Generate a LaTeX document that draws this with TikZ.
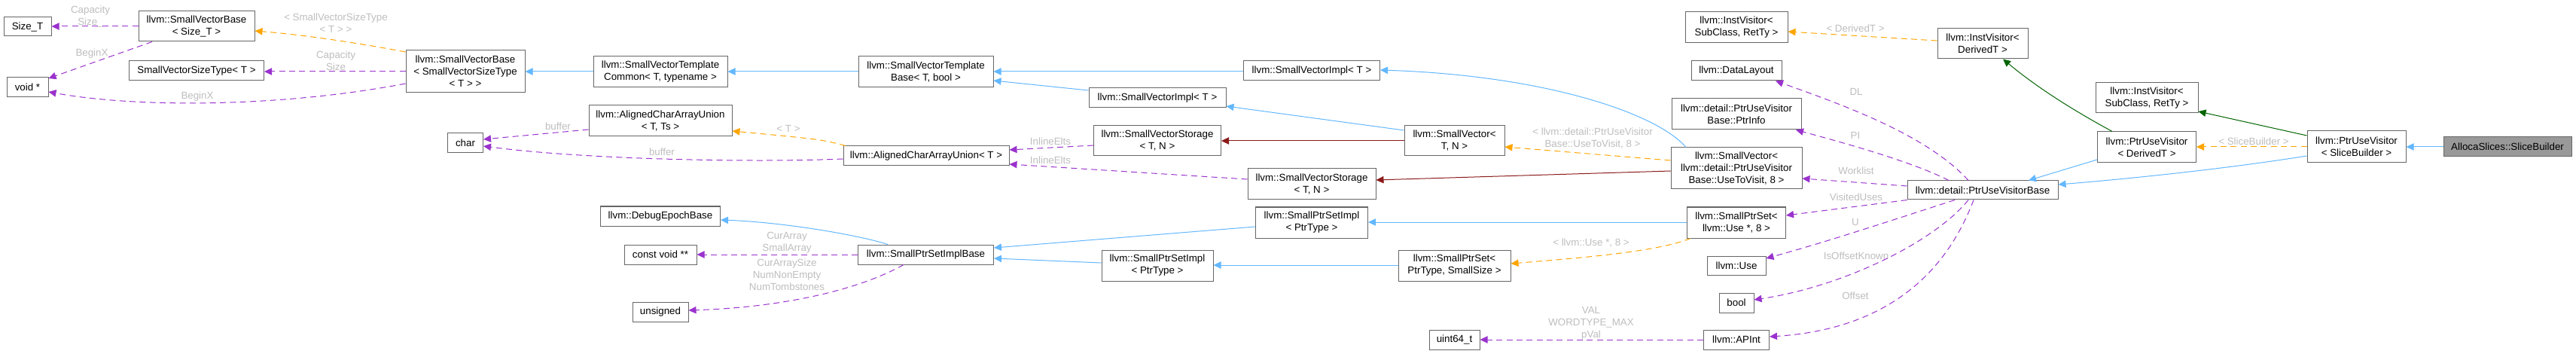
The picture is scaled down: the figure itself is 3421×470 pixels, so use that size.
\documentclass[tikz,border=0pt]{standalone}
\usepackage{fontspec}
\setmainfont{Liberation Sans}
\usetikzlibrary{arrows.meta}
\definecolor{eblue}{HTML}{63B8FF}
\definecolor{epurp}{HTML}{9A32CD}
\definecolor{eorange}{HTML}{FFA500}
\definecolor{ered}{HTML}{8B1A1A}
\definecolor{egreen}{HTML}{006400}
\definecolor{lblgray}{HTML}{BEBEBE}
\definecolor{bord}{HTML}{666666}
\definecolor{mainfill}{HTML}{999999}
\tikzset{
  box/.style={draw=bord, line width=0.75pt, fill=white, inner sep=0pt, align=center, font=\fontsize{10}{12}\selectfont},
  bx/.style 2 args={minimum width=#1*0.75pt, minimum height=#2*0.75pt},
  lbl/.style={inner sep=0pt, align=center, text=lblgray, font=\fontsize{10}{12}\selectfont},
  ebase/.style={line width=0.75pt, -{Triangle[length=7.5pt,width=7pt]}},
  blueE/.style={ebase, draw=eblue},
  purpE/.style={ebase, draw=epurp, dash pattern=on 6pt off 4pt},
  orangeE/.style={ebase, draw=eorange, dash pattern=on 6pt off 4pt},
  redE/.style={ebase, draw=ered},
  greenE/.style={ebase, draw=egreen}
}
\begin{document}
\begin{tikzpicture}[x=0.75pt, y=-0.75pt]
\fill[white] (0,0) rectangle (3421,470);
\useasboundingbox (0,0) rectangle (3421,470);
% nodes
\node[box, bx={63}{25}] (sizeT) at (36.5,35.5) {Size\_T};
\node[box, bx={154}{40}] (svbSize) at (261,35) {llvm::SmallVectorBase\\< Size\_T >};
\node[box, bx={55}{26}] (voidp) at (36.5,116) {void *};
\node[box, bx={179}{26}] (svst) at (261,94) {SmallVectorSizeType< T >};
\node[box, bx={158}{56}] (svbSvst) at (618,95) {llvm::SmallVectorBase\\< SmallVectorSizeType\\< T > >};
\node[box, bx={178}{41}] (svtc) at (877,95.5) {llvm::SmallVectorTemplate\\Common< T, typename >};
\node[box, bx={190}{41}] (acauTs) at (877,160.5) {llvm::AlignedCharArrayUnion\\< T, Ts >};
\node[box, bx={47}{26}] (char) at (618,190) {char};
\node[box, bx={179}{41}] (svtb) at (1229.5,95.5) {llvm::SmallVectorTemplate\\Base< T, bool >};
\node[box, bx={220}{26}] (acauT) at (1230,207) {llvm::AlignedCharArrayUnion< T >};
\node[box, bx={181}{26}] (svimplTop) at (1742,94) {llvm::SmallVectorImpl< T >};
\node[box, bx={182}{26}] (svimpl2) at (1537,130) {llvm::SmallVectorImpl< T >};
\node[box, bx={169}{40}] (svs1) at (1537,187) {llvm::SmallVectorStorage\\< T, N >};
\node[box, bx={133}{40}] (sv) at (1931.5,187) {llvm::SmallVector<\\T, N >};
\node[box, bx={174}{55}] (svUTV) at (2306,223.5) {llvm::SmallVector<\\llvm::detail::PtrUseVisitor\\Base::UseToVisit, 8 >};
\node[box, bx={170}{41}] (svs2) at (1742,244.5) {llvm::SmallVectorStorage\\< T, N >};
\node[box, bx={149}{41}] (spsiTop) at (1742,295.5) {llvm::SmallPtrSetImpl\\< PtrType >};
\node[box, bx={148}{41}] (spsiLow) at (1537,352.5) {llvm::SmallPtrSetImpl\\< PtrType >};
\node[box, bx={180}{26}] (spsib) at (1229.5,338) {llvm::SmallPtrSetImplBase};
\node[box, bx={149}{41}] (sps) at (1931.5,352.5) {llvm::SmallPtrSet<\\PtrType, SmallSize >};
\node[box, bx={159}{26}] (debug) at (877,287) {llvm::DebugEpochBase};
\node[box, bx={96}{26}] (cvoid) at (877,338) {const void **};
\node[box, bx={74}{26}] (unsgn) at (877,414) {unsigned};
\node[box, bx={67}{26}] (uint64) at (1931.5,451) {uint64\_t};
\node[box, bx={136}{41}] (ivSub1) at (2306,36.5) {llvm::InstVisitor<\\SubClass, RetTy >};
\node[box, bx={120}{40}] (ivDer) at (2633,58) {llvm::InstVisitor<\\DerivedT >};
\node[box, bx={120}{26}] (dl) at (2306,94) {llvm::DataLayout};
\node[box, bx={172}{41}] (ptrinfo) at (2306,151.5) {llvm::detail::PtrUseVisitor\\Base::PtrInfo};
\node[box, bx={200}{25}] (puvb) at (2633,252.5) {llvm::detail::PtrUseVisitorBase};
\node[box, bx={131}{41}] (spsUse) at (2306,295.5) {llvm::SmallPtrSet<\\llvm::Use *, 8 >};
\node[box, bx={78}{25}] (use) at (2306,352.5) {llvm::Use};
\node[box, bx={46}{26}] (bool) at (2306,402) {bool};
\node[box, bx={87}{26}] (apint) at (2306,451) {llvm::APInt};
\node[box, bx={131}{41}] (puvDer) at (2851,195.5) {llvm::PtrUseVisitor\\< DerivedT >};
\node[box, bx={136}{40}] (ivSub2) at (2851,130) {llvm::InstVisitor<\\SubClass, RetTy >};
\node[box, bx={131}{42}] (puvSB) at (3129.5,195) {llvm::PtrUseVisitor\\< SliceBuilder >};
\node[box, bx={170}{26}, fill=mainfill] (sb) at (3330,195) {AllocaSlices::SliceBuilder};
% labels
\node[lbl] (l1) at (120,21.5) {Capacity\\Size\_};
\node[lbl] (l2) at (122,71) {BeginX};
\node[lbl] (l3) at (446,30.5) {< SmallVectorSizeType\\< T > >};
\node[lbl] (l4) at (446,80.5) {Capacity\\Size};
\node[lbl] (l5) at (262,128) {BeginX};
\node[lbl] (l6) at (741,168) {buffer};
\node[lbl] (l7) at (879,202) {buffer};
\node[lbl] (l8) at (1047,171) {< T >};
\node[lbl] (l9) at (1395,188) {InlineElts};
\node[lbl] (l10) at (1395,213) {InlineElts};
\node[lbl] (l11) at (1045,322.5) {CurArray\\SmallArray};
\node[lbl] (l12) at (1045,365) {CurArraySize\\NumNonEmpty\\NumTombstones};
\node[lbl] (l13) at (2115,183.5) {< llvm::detail::PtrUseVisitor\\Base::UseToVisit, 8 >};
\node[lbl] (l14) at (2113,323) {< llvm::Use *, 8 >};
\node[lbl] (l15) at (2113,429) {VAL\\WORDTYPE\_MAX\\pVal};
\node[lbl] (l16) at (2464,38) {< DerivedT >};
\node[lbl] (l17) at (2465,122) {DL};
\node[lbl] (l18) at (2464,180) {PI};
\node[lbl] (l19) at (2465,227) {Worklist};
\node[lbl] (l20) at (2465,262) {VisitedUses};
\node[lbl] (l21) at (2464,295) {U};
\node[lbl] (l22) at (2465,340) {IsOffsetKnown};
\node[lbl] (l23) at (2464,393) {Offset};
\node[lbl] (l24) at (2993,188) {< SliceBuilder >};
% edges
\draw[purpE] (svbSize.west |- 0,35) -- (sizeT.east |- 0,35);
\draw[purpE] (svbSize.south -| 202,0) -- (voidp.east |- 0,104);
\draw[orangeE] (svbSvst.west |- 0,69) .. controls (470,56) and (400,46) .. (svbSize.east |- 0,41);
\draw[purpE] (svbSvst.west |- 0,95) -- (svst.east |- 0,95);
\draw[purpE] (svbSvst.west |- 0,111) .. controls (370,143) and (180,143) .. (voidp.east |- 0,122);
\draw[blueE] (svtc.west |- 0,95) -- (svbSvst.east |- 0,95);
\draw[blueE] (svtb.west |- 0,95) -- (svtc.east |- 0,95);
\draw[blueE] (svimplTop.west |- 0,95) -- (svtb.east |- 0,95);
\draw[blueE] (svimpl2.west |- 0,120) -- (svtb.east |- 0,107);
\draw[blueE] (sv.west |- 0,173) -- (svimpl2.east |- 0,141);
\draw[redE] (sv.west |- 0,187) -- (svs1.east |- 0,187);
\draw[purpE] (svs1.west |- 0,193) -- (acauT.east |- 0,199);
\draw[purpE] (svs2.west |- 0,238) -- (acauT.east |- 0,218);
\draw[orangeE] (acauT.north -| 1123,0) .. controls (1090,185) .. (acauTs.east |- 0,174);
\draw[purpE] (acauTs.west |- 0,172) -- (char.east |- 0,185);
\draw[purpE] (acauT.west |- 0,211) .. controls (1000,216) and (780,212) .. (char.east |- 0,194);
\draw[blueE] (spsiTop.west |- 0,301) -- (spsib.east |- 0,329);
\draw[blueE] (spsiLow.west |- 0,349) -- (spsib.east |- 0,343);
\draw[blueE] (sps.west |- 0,352) -- (spsiLow.east |- 0,352);
\draw[blueE] (spsUse.west |- 0,295) -- (spsiTop.east |- 0,295);
\draw[orangeE] (spsUse.south -| 2245,0) .. controls (2200,335) and (2090,343) .. (sps.east |- 0,350);
\draw[blueE] (spsib.north -| 1179,0) .. controls (1140,312) and (1040,295) .. (debug.east |- 0,292);
\draw[purpE] (spsib.west |- 0,338) -- (cvoid.east |- 0,338);
\draw[purpE] (spsib.south -| 1200,0) .. controls (1140,385) and (1040,408) .. (unsgn.east |- 0,412);
\draw[orangeE] (svUTV.west |- 0,213) -- (sv.east |- 0,195);
\draw[redE] (svUTV.west |- 0,227) -- (svs2.east |- 0,239);
\draw[blueE] (svUTV.north -| 2239,0) .. controls (2200,150) and (2050,100) .. (svimplTop.east |- 0,93);
\draw[purpE] (puvb.west |- 0,247) -- (svUTV.east |- 0,237);
\draw[purpE] (puvb.north -| 2614,0) .. controls (2560,180) and (2450,140) .. (dl.south -| 2358,0);
\draw[purpE] (puvb.north -| 2588,0) .. controls (2540,215) and (2450,190) .. (ptrinfo.south -| 2385,0);
\draw[purpE] (puvb.south west) -- (spsUse.east |- 0,286);
\draw[purpE] (puvb.south -| 2596,0) .. controls (2520,290) and (2430,320) .. (use.east |- 0,343);
\draw[purpE] (puvb.south -| 2614,0) .. controls (2570,320) and (2450,380) .. (bool.east |- 0,398);
\draw[purpE] (puvb.south -| 2621,0) .. controls (2570,400) and (2460,440) .. (apint.east |- 0,447);
\draw[purpE] (apint.west |- 0,451) -- (uint64.east |- 0,451);
\draw[orangeE] (ivDer.west |- 0,54) -- (ivSub1.east |- 0,42);
\draw[greenE] (puvDer.north -| 2805,0) .. controls (2760,150) and (2710,120) .. (ivDer.south -| 2660,0);
\draw[blueE] (puvDer.west |- 0,212) -- (puvb.north -| 2694,0);
\draw[orangeE] (puvSB.west |- 0,195) -- (puvDer.east |- 0,195);
\draw[greenE] (puvSB.west |- 0,180) -- (ivSub2.east |- 0,148);
\draw[blueE] (puvSB.west |- 0,207) .. controls (2950,225) and (2820,238) .. (puvb.east |- 0,245);
\draw[blueE] (sb.west) -- (puvSB.east |- 0,195);
\end{tikzpicture}
\end{document}
